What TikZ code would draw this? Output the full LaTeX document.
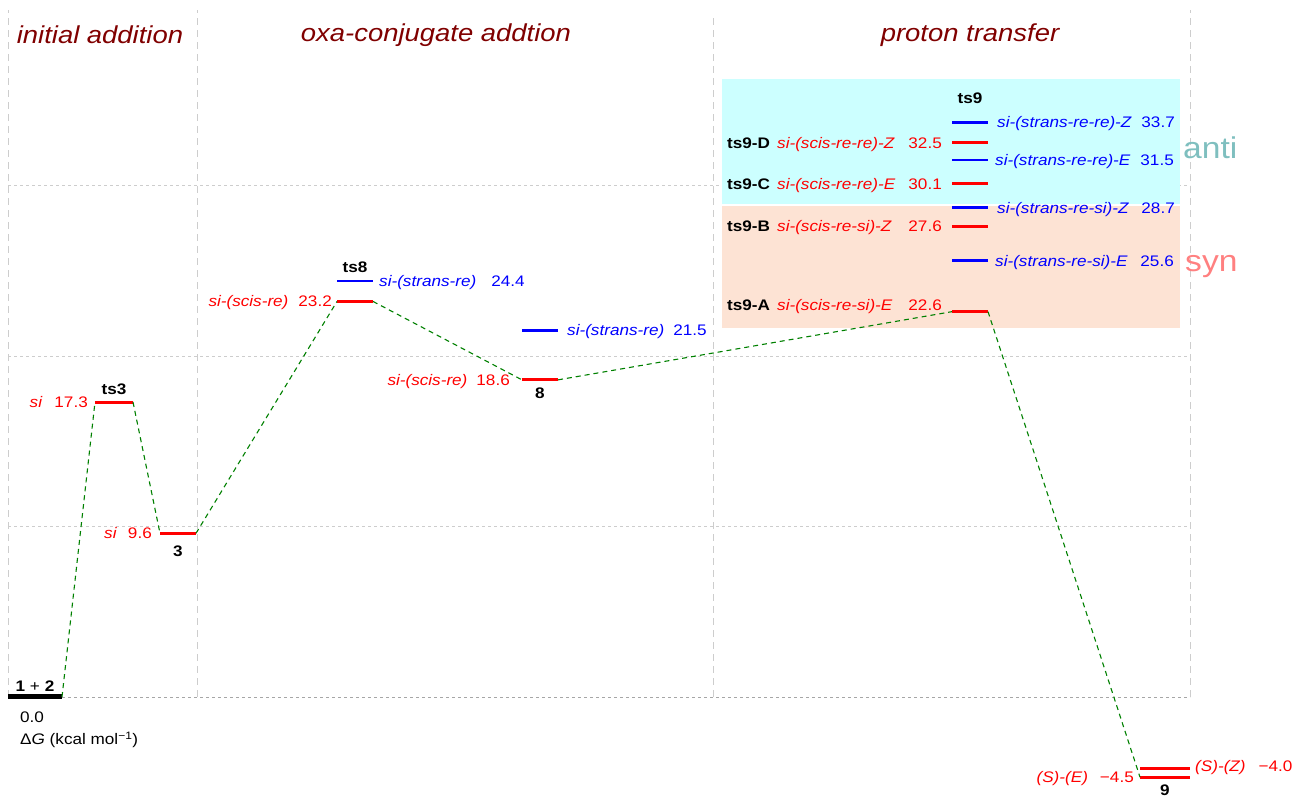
\documentclass[tikz,border=0pt]{standalone}
\usepackage{fontspec}
\setmainfont{Liberation Sans}[FakeStretch=1.12]
\usetikzlibrary{positioning}

\definecolor{pathgreen}{RGB}{0,128,0}
\definecolor{headred}{RGB}{128,0,0}
\definecolor{gridgray}{RGB}{205,205,205}
\definecolor{antibox}{RGB}{204,255,255}
\definecolor{synbox}{RGB}{253,227,212}
\definecolor{antitext}{RGB}{127,191,191}
\definecolor{syntext}{RGB}{255,128,128}

% level: name, x left, x right, energy, style
\newcommand{\lvl}[5]{%
  \coordinate (#1-l) at (#2,#4);
  \coordinate (#1-r) at (#3,#4);
  \coordinate (#1) at ({(#2+#3)/2},#4);
  \draw[#5] (#1-l) -- (#1-r);
}

\begin{document}
\begin{tikzpicture}[x=1pt,y=17.05pt,
  redlv/.style={red,line width=3pt},
  bluelv/.style={blue,line width=2.8pt},
  baselv/.style={black,line width=5pt},
  conn/.style={pathgreen,dash pattern=on 5pt off 4pt,line width=1.1pt},
  hgrid/.style={gridgray,dash pattern=on 3pt off 3pt,line width=0.8pt},
  vgrid/.style={gridgray,dash pattern=on 7pt off 5pt,line width=1pt},
  head/.style={headred,font=\fontsize{24.5}{28}\selectfont\itshape},
  lbl/.style={inner sep=0pt,text height=11pt,text depth=0pt,font=\fontsize{15.3}{18}\selectfont},
  tsname/.style={lbl,font=\fontsize{15.3}{18}\selectfont\bfseries},
  sidetag/.style={inner sep=0pt,anchor=base west,font=\fontsize{30}{34}\selectfont}]
  \useasboundingbox (0,-5.865) rectangle (1296,40.88);

  % grid
  \draw[hgrid] (8,10) -- (1190,10);
  \draw[hgrid] (8,20) -- (1190,20);
  \draw[hgrid] (8,30) -- (1190,30);
  \draw[hgrid,gray!70] (8,0) -- (1190,0);
  \draw[vgrid] (8,0) -- (8,40.29);
  \draw[vgrid] (197,0) -- (197,40.29);
  \draw[vgrid] (713,0) -- (713,40.0);
  \draw[vgrid] (1190,0) -- (1190,40.29);

  % anti / syn boxes
  \fill[antibox] (722,28.91) rectangle (1180,36.25);
  \fill[synbox] (722,21.64) rectangle (1180,28.80);
  \node[sidetag,antitext] (anti) at (1183,31.61) {anti};
  \node[sidetag,syntext] (syn) at (1185,24.93) {syn};

  % stage headings
  \node[head] (hinit) at (100,38.83) {initial addition};
  \node[head] (hoxa) at (436,38.83) {oxa-conjugate addtion};
  \node[head] (hprot) at (970,38.83) {proton transfer};

  % levels
  \lvl{r12}{8}{62}{0}{baselv}
  \lvl{ts3}{95}{133}{17.3}{redlv}
  \lvl{i3}{160}{196}{9.6}{redlv}
  \lvl{ts8b}{337}{373}{24.4}{bluelv}
  \lvl{ts8}{337}{373}{23.2}{redlv}
  \lvl{i8b}{522}{558}{21.5}{bluelv}
  \lvl{i8}{522}{558}{18.6}{redlv}
  \lvl{t9rz}{952}{988}{33.7}{bluelv}
  \lvl{t9d}{952}{988}{32.5}{redlv}
  \lvl{t9re}{952}{988}{31.5}{bluelv}
  \lvl{t9c}{952}{988}{30.1}{redlv}
  \lvl{t9sz}{952}{988}{28.7}{bluelv}
  \lvl{t9b}{952}{988}{27.6}{redlv}
  \lvl{t9se}{952}{988}{25.6}{bluelv}
  \lvl{t9a}{952}{988}{22.6}{redlv}
  \lvl{p9z}{1140}{1190}{-4.2}{redlv}
  \lvl{p9e}{1140}{1190}{-4.7}{redlv}

  % reaction path
  \draw[conn] (r12-r) -- (ts3-l) (ts3-r) -- (i3-l) (i3-r) -- (ts8-l)
    (ts8-r) -- (i8-l) (i8-r) -- (t9a-l) (t9a-r) -- (p9e-l);

  % 1 + 2
  \node[tsname,above=5pt of r12] (r12n) {1 {\mdseries+} 2};
  \node[lbl,anchor=base west] (zero) at (20,-1.525) {0.0};
  \node[lbl,anchor=base west] (dg) at (20,-2.815) {Δ\textit{G} (kcal mol\textsuperscript{−1})};

  % ts3 and 3
  \node[tsname,above=7pt of ts3] (ts3n) {ts3};
  \node[lbl,red,left=7pt of ts3-l] (ts3v) {\textit{si}\hspace{12pt}17.3};
  \node[tsname,below=12pt of i3] (i3n) {3};
  \node[lbl,red,left=8pt of i3-l] (i3v) {\textit{si}\hspace{11pt}9.6};

  % ts8 and 8
  \node[tsname,above=8pt of ts8b] (ts8n) {ts8};
  \node[lbl,blue,right=6pt of ts8b-r] (ts8bv) {\textit{si-(strans-re)}\hspace{15pt}24.4};
  \node[lbl,red,left=5pt of ts8-l] (ts8v) {\textit{si-(scis-re)}\hspace{10pt}23.2};
  \node[tsname,below=7pt of i8] (i8n) {8};
  \node[lbl,blue,right=9pt of i8b-r] (i8bv) {\textit{si-(strans-re)}\hspace{9pt}21.5};
  \node[lbl,red,left=12pt of i8-l] (i8v) {\textit{si-(scis-re)}\hspace{9pt}18.6};

  % ts9, scis (red)
  \node[tsname,above=19pt of t9rz] (ts9n) {ts9};
  \node[tsname,anchor=west] (t9dt) at (727,32.5) {ts9-D};
  \node[lbl,red,anchor=west] (t9dn) at (777,32.5) {\textit{si-(scis-re-re)-Z}};
  \node[lbl,red,left=10pt of t9d-l] (t9dv) {32.5};
  \node[tsname,anchor=west] (t9ct) at (727,30.1) {ts9-C};
  \node[lbl,red,anchor=west] (t9cn) at (777,30.1) {\textit{si-(scis-re-re)-E}};
  \node[lbl,red,left=10pt of t9c-l] (t9cv) {30.1};
  \node[tsname,anchor=west] (t9bt) at (727,27.6) {ts9-B};
  \node[lbl,red,anchor=west] (t9bn) at (777,27.6) {\textit{si-(scis-re-si)-Z}};
  \node[lbl,red,left=10pt of t9b-l] (t9bv) {27.6};
  \node[tsname,anchor=west,yshift=7pt] (t9at) at (727,22.6) {ts9-A};
  \node[lbl,red,anchor=west,yshift=7pt] (t9an) at (777,22.6) {\textit{si-(scis-re-si)-E}};
  \node[lbl,red,left=10pt of t9a-l,yshift=7pt] (t9av) {22.6};

  % ts9, strans (blue)
  \node[lbl,blue,right=9pt of t9rz-r] (t9rzn) {\textit{si-(strans-re-re)-Z}};
  \node[lbl,blue,anchor=east] (t9rzv) at (1175,33.7) {33.7};
  \node[lbl,blue,right=7pt of t9re-r] (t9ren) {\textit{si-(strans-re-re)-E}};
  \node[lbl,blue,anchor=east] (t9rev) at (1174,31.5) {31.5};
  \node[lbl,blue,right=9pt of t9sz-r] (t9szn) {\textit{si-(strans-re-si)-Z}};
  \node[lbl,blue,anchor=east] (t9szv) at (1175,28.7) {28.7};
  \node[lbl,blue,right=7pt of t9se-r] (t9sen) {\textit{si-(strans-re-si)-E}};
  \node[lbl,blue,anchor=east] (t9sev) at (1174,25.6) {25.6};

  % 9
  \node[tsname,below=7pt of p9e] (p9n) {9};
  \node[lbl,red,left=6pt of p9e-l] (p9ev) {\textit{(S)-(E)}\hspace{12pt}−4.5};
  \node[lbl,red,right=5pt of p9z-r,yshift=3pt] (p9zv) {\textit{(S)-(Z)}\hspace{13pt}−4.0};
\end{tikzpicture}
\end{document}
